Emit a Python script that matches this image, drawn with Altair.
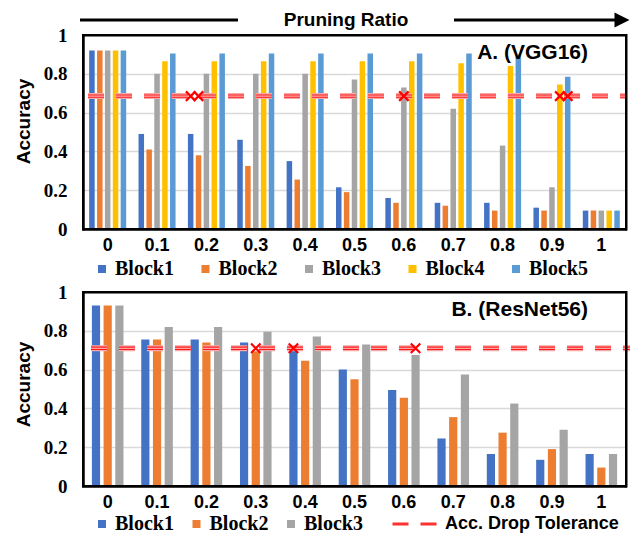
import altair as alt
import pandas as pd

# ---------------- data ----------------
ratios = ["0", "0.1", "0.2", "0.3", "0.4", "0.5", "0.6", "0.7", "0.8", "0.9", "1"]

vgg_blocks = ["Block1", "Block2", "Block3", "Block4", "Block5"]
vgg_b1 = [0.92, 0.49, 0.49, 0.46, 0.35, 0.215, 0.16, 0.135, 0.135, 0.11, 0.095]
vgg_b2 = [0.92, 0.41, 0.38, 0.325, 0.255, 0.19, 0.135, 0.12, 0.095, 0.095, 0.095]
vgg_b3 = [0.92, 0.80, 0.80, 0.80, 0.80, 0.77, 0.73, 0.62, 0.43, 0.215, 0.095]
vgg_b4 = [0.92, 0.865, 0.865, 0.865, 0.865, 0.865, 0.865, 0.855, 0.84, 0.745, 0.095]
vgg_b5 = [0.92, 0.905, 0.905, 0.905, 0.905, 0.905, 0.905, 0.905, 0.90, 0.785, 0.095]
vgg_tol = 0.685
vgg_cross_ratio = ["0.2", "0.2", "0.6", "0.9", "0.9"]
vgg_cross_block = ["Block1", "Block2", "Block3", "Block4", "Block5"]

res_blocks = ["Block1", "Block2", "Block3"]
res_b1 = [0.93, 0.755, 0.755, 0.74, 0.70, 0.60, 0.495, 0.245, 0.165, 0.135, 0.165]
res_b2 = [0.93, 0.755, 0.74, 0.695, 0.645, 0.55, 0.455, 0.355, 0.275, 0.19, 0.095]
res_b3 = [0.93, 0.82, 0.82, 0.795, 0.77, 0.73, 0.675, 0.575, 0.425, 0.29, 0.165]
res_tol = 0.71
res_cross_ratio = ["0.3", "0.4", "0.6"]
res_cross_block = ["Block2", "Block1", "Block3"]

y_ticks = [0, 0.2, 0.4, 0.6, 0.8, 1]
y_min, y_max = 0, 1
block_colors = ["#4472C4", "#ED7D31", "#A5A5A5", "#FFC000", "#5B9BD5"]
tol_name = "Acc. Drop Tolerance"

W, H = 543, 194
X_PATH = "M-1,-1L1,1M-1,1L1,-1"
SANS = "Liberation Sans"
SERIF = "Liberation Serif"


def long(blocks, series):
    rows = []
    for b, vals in zip(blocks, series):
        for r, v in zip(ratios, vals):
            rows.append({"ratio": r, "block": b, "acc": v})
    return pd.DataFrame(rows)


def panel(df, blocks, tol, cross_r, cross_b, label, pi, opi, title_y,
          legend_x, legend_y, legend_col_pad, with_tol_legend, x0, x1, top=False):
    colors = block_colors[:len(blocks)]
    xscale = alt.Scale(domain=ratios, paddingInner=pi, paddingOuter=pi / 2)
    xenc = alt.X("ratio:N", sort=ratios, scale=xscale,
                 axis=alt.Axis(title=None, labelAngle=0, labelFont=SANS, labelFontWeight="bold",
                               labelFontSize=18, labelColor="black", labelPadding=7,
                               ticks=False, domain=True, domainColor="black", domainWidth=2,
                               grid=False))
    yaxis = alt.Axis(values=y_ticks, format="~g", labelOverlap=False, tickCount=6,
                     title="Accuracy", titleFont=SANS, titleFontSize=19,
                     titleFontWeight="bold", titleColor="black",
                     titleAngle=270, titleX=-60, titleY=title_y,
                     titleAlign="center", titleBaseline="middle",
                     labelFont=SERIF, labelFontWeight="bold", labelFontSize=19,
                     labelColor="black", labelPadding=16, ticks=False,
                     domain=True, domainColor="black", domainWidth=2,
                     grid=True, gridColor="#d9d9d9", gridWidth=1.6)
    yscale = alt.Scale(domain=[y_min, y_max], nice=False, zero=True)
    yenc = alt.Y("acc:Q", scale=yscale, axis=yaxis)
    xoff_scale = alt.Scale(domain=blocks, paddingInner=opi, paddingOuter=0)

    bars = alt.Chart(df).mark_bar().encode(
        x=xenc, y=yenc,
        xOffset=alt.XOffset("block:N", sort=blocks, scale=xoff_scale),
        color=alt.Color("block:N", sort=blocks,
                        scale=alt.Scale(domain=blocks, range=colors),
                        legend=alt.Legend(title=None, orient="none", legendX=legend_x,
                                          legendY=legend_y,
                                          direction="horizontal", columns=len(blocks),
                                          columnPadding=legend_col_pad, symbolType="square",
                                          symbolSize=64, symbolStrokeWidth=0, labelOffset=3,
                                          labelFont=SERIF, labelFontWeight="bold",
                                          labelFontSize=20, labelColor="black", padding=0)),
    )

    tol_df = pd.DataFrame({"acc": [tol], "name": [tol_name]})
    dash = [16, 12]
    rule_base = alt.Chart(tol_df).encode(y=yenc, x=alt.value(x0), x2=alt.value(x1))
    r1 = rule_base.mark_rule(color="#f7a8a8", strokeWidth=6, strokeDash=dash)
    if with_tol_legend:
        r2 = rule_base.mark_rule(color="#ff1a1a", strokeWidth=3.4).encode(
            strokeDash=alt.StrokeDash("name:N", scale=alt.Scale(domain=[tol_name], range=[dash]),
                                      legend=alt.Legend(title=None, orient="none", legendX=308,
                                                        legendY=legend_y - 14, symbolType="stroke",
                                                        symbolSize=2025, symbolStrokeWidth=3,
                                                        symbolStrokeColor="#ff3030",
                                                        symbolDash=[17, 10], labelOffset=6,
                                                        labelLimit=400,
                                                        labelFont=SANS, labelFontWeight="bold",
                                                        labelFontSize=18, labelColor="black",
                                                        padding=0)))
    else:
        r2 = rule_base.mark_rule(color="#ff1a1a", strokeWidth=3.4, strokeDash=dash)
    r3 = rule_base.mark_rule(color="#ffd0d0", strokeWidth=1, strokeDash=dash)

    cross_df = pd.DataFrame({"ratio": cross_r, "block": cross_b, "acc": [tol] * len(cross_r)})
    crosses = alt.Chart(cross_df).mark_point(shape=X_PATH, size=90, color="red", filled=False,
                                             strokeWidth=2.2, opacity=1).encode(
        x=alt.X("ratio:N", sort=ratios, scale=xscale), y=yenc,
        xOffset=alt.XOffset("block:N", sort=blocks, scale=xoff_scale, bandPosition=0.5))

    one = pd.DataFrame({"a": [0]})
    lab = alt.Chart(pd.DataFrame({"t": [label]})).mark_text(
        align="right", baseline="middle", font=SANS, fontWeight="bold", fontSize=21,
        color="black").encode(text="t:N", x=alt.value(505), y=alt.value(18))

    # plot frame drawn as four thin filled black bands on the plot edges
    fb = alt.Chart(one)
    band = dict(color="black", filled=True, opacity=1, strokeWidth=0)
    f_t = fb.mark_rect(**band).encode(
        x=alt.value(-1), x2=alt.value(W + 1), y=alt.value(-1), y2=alt.value(1.5))
    f_b = fb.mark_rect(**band).encode(
        x=alt.value(-1), x2=alt.value(W + 1), y=alt.value(H - 1), y2=alt.value(H + 1.5))
    f_l = fb.mark_rect(**band).encode(
        x=alt.value(-1), x2=alt.value(1.5), y=alt.value(-1), y2=alt.value(H + 1.5))
    f_r = fb.mark_rect(**band).encode(
        x=alt.value(W - 1), x2=alt.value(W + 1.5), y=alt.value(-1), y2=alt.value(H + 1.5))

    layers = [bars, r1, r2, r3, crosses, lab, f_t, f_b, f_l, f_r]

    if top:
        head = alt.Chart(pd.DataFrame({"t": ["Pruning Ratio"]})).mark_text(
            align="center", baseline="middle", font=SANS, fontWeight="bold", fontSize=19,
            color="black").encode(text="t:N", x=alt.value(263), y=alt.value(-15))
        la = alt.Chart(one).mark_rule(color="black", strokeWidth=3).encode(
            x=alt.value(-3), x2=alt.value(155), y=alt.value(-15))
        lb = alt.Chart(one).mark_rule(color="black", strokeWidth=3).encode(
            x=alt.value(371), x2=alt.value(534), y=alt.value(-15))
        tip = alt.Chart(one).mark_point(shape="M-1,-1L1,0L-1,1Z", size=225, filled=True,
                                        color="black", opacity=1, strokeWidth=0).encode(
            x=alt.value(539), y=alt.value(-15))
        layers += [head, la, lb, tip]

    return alt.layer(*layers).properties(width=W, height=H)


top = panel(long(vgg_blocks, [vgg_b1, vgg_b2, vgg_b3, vgg_b4, vgg_b5]), vgg_blocks, vgg_tol,
            vgg_cross_ratio, vgg_cross_block, "A. (VGG16)", 0.25, 0.3, 86, 9, 224, 21.5, False,
            5, W, top=True)
bottom = panel(long(res_blocks, [res_b1, res_b2, res_b3]), res_blocks, res_tol,
               res_cross_ratio, res_cross_block, "B. (ResNet56)", 0.36, 0.3, 92, 9, 222, 12.5, True,
               8, W + 4)

chart = alt.vconcat(top, bottom, spacing=63, bounds="flush").resolve_scale(
    color="independent", xOffset="independent", y="independent", strokeDash="independent"
).resolve_legend(color="independent").properties(
    padding={"left": 5, "top": 2, "right": 0, "bottom": 0}
).configure(background="white").configure_view(stroke="black", strokeWidth=2)

chart.save("out.html", embed_options={"renderer": "svg", "actions": False})
